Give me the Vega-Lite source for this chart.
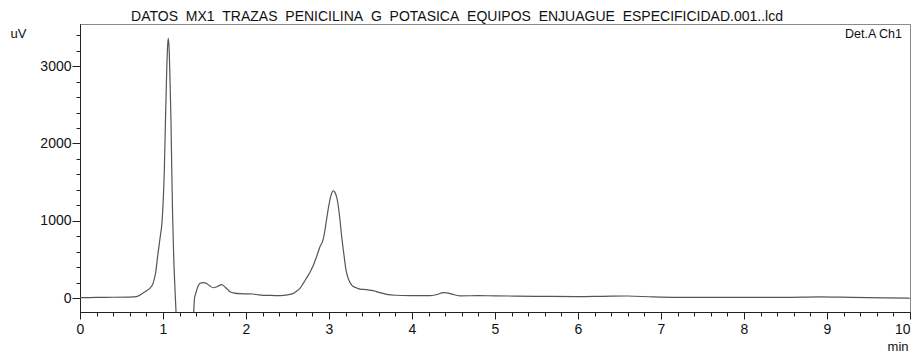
{
  "$schema": "https://vega.github.io/schema/vega-lite/v6.json",
  "width": 830,
  "height": 288,
  "autosize": {"type": "none"},
  "padding": {"left": 80, "top": 24, "right": 6, "bottom": 44},
  "background": "white",
  "config": {
    "view": {"stroke": "#8a8a8a", "strokeWidth": 1},
    "font": "Liberation Sans",
    "axis": {
      "domainColor": "#222",
      "domainWidth": 1,
      "tickColor": "#222",
      "tickWidth": 1,
      "labelColor": "#111",
      "labelFont": "Liberation Sans",
      "labelFontSize": 14,
      "grid": false,
      "titleFont": "Liberation Sans",
      "titleFontWeight": "normal",
      "titleFontSize": 13,
      "titleColor": "#111"
    }
  },
  "title": {
    "text": "DATOS\u00a0\u00a0MX1\u00a0\u00a0TRAZAS\u00a0\u00a0PENICILINA\u00a0\u00a0G\u00a0\u00a0POTASICA\u00a0\u00a0EQUIPOS\u00a0\u00a0ENJUAGUE\u00a0\u00a0ESPECIFICIDAD.001..lcd",
    "anchor": "middle",
    "frame": "group",
    "dx": -38,
    "dy": 15,
    "fontSize": 14,
    "fontWeight": "normal",
    "font": "Liberation Sans",
    "color": "#111",
    "baseline": "alphabetic",
    "offset": 4
  },
  "resolve": {"axis": {"x": "independent", "y": "independent"}},
  "layer": [
    {
      "data": {
        "values": [
          {"t": 0.0, "v": 5}, {"t": 0.2, "v": 7}, {"t": 0.4, "v": 10}, {"t": 0.6, "v": 12},
          {"t": 0.68, "v": 18}, {"t": 0.72, "v": 35}, {"t": 0.76, "v": 65}, {"t": 0.8, "v": 92},
          {"t": 0.84, "v": 125}, {"t": 0.88, "v": 190}, {"t": 0.91, "v": 320}, {"t": 0.94, "v": 578},
          {"t": 0.965, "v": 780}, {"t": 0.99, "v": 1009}, {"t": 1.016, "v": 1656},
          {"t": 1.03, "v": 2300}, {"t": 1.045, "v": 2950}, {"t": 1.055, "v": 3250}, {"t": 1.064, "v": 3360},
          {"t": 1.075, "v": 3200}, {"t": 1.085, "v": 2800}, {"t": 1.096, "v": 2300}, {"t": 1.105, "v": 1700},
          {"t": 1.117, "v": 1009}, {"t": 1.13, "v": 500}, {"t": 1.145, "v": 100}, {"t": 1.157, "v": -181},
          {"t": 1.18, "v": -800}, {"t": 1.25, "v": -1500}, {"t": 1.33, "v": -900}, {"t": 1.36, "v": -450},
          {"t": 1.37, "v": -181}, {"t": 1.38, "v": 0}, {"t": 1.395, "v": 60}, {"t": 1.406, "v": 103},
          {"t": 1.425, "v": 160}, {"t": 1.446, "v": 190}, {"t": 1.486, "v": 200}, {"t": 1.52, "v": 190},
          {"t": 1.56, "v": 160}, {"t": 1.606, "v": 133}, {"t": 1.65, "v": 145}, {"t": 1.707, "v": 172},
          {"t": 1.75, "v": 140}, {"t": 1.807, "v": 82}, {"t": 1.86, "v": 64}, {"t": 1.928, "v": 56},
          {"t": 2.0, "v": 54}, {"t": 2.088, "v": 52}, {"t": 2.15, "v": 40}, {"t": 2.209, "v": 34},
          {"t": 2.3, "v": 34}, {"t": 2.41, "v": 30}, {"t": 2.5, "v": 40}, {"t": 2.57, "v": 60},
          {"t": 2.61, "v": 90}, {"t": 2.65, "v": 125}, {"t": 2.69, "v": 190}, {"t": 2.73, "v": 260},
          {"t": 2.77, "v": 330}, {"t": 2.81, "v": 420}, {"t": 2.85, "v": 535}, {"t": 2.89, "v": 660},
          {"t": 2.93, "v": 760}, {"t": 2.95, "v": 870}, {"t": 2.97, "v": 1009}, {"t": 2.995, "v": 1180},
          {"t": 3.02, "v": 1311}, {"t": 3.04, "v": 1375}, {"t": 3.052, "v": 1388}, {"t": 3.07, "v": 1370},
          {"t": 3.1, "v": 1268}, {"t": 3.125, "v": 1080}, {"t": 3.153, "v": 793}, {"t": 3.18, "v": 560},
          {"t": 3.205, "v": 362}, {"t": 3.24, "v": 230}, {"t": 3.273, "v": 168}, {"t": 3.32, "v": 135},
          {"t": 3.373, "v": 116}, {"t": 3.45, "v": 108}, {"t": 3.534, "v": 95}, {"t": 3.6, "v": 72},
          {"t": 3.695, "v": 48}, {"t": 3.8, "v": 36}, {"t": 3.976, "v": 30}, {"t": 4.1, "v": 30},
          {"t": 4.217, "v": 30}, {"t": 4.3, "v": 45}, {"t": 4.377, "v": 69}, {"t": 4.42, "v": 66},
          {"t": 4.48, "v": 50}, {"t": 4.578, "v": 28}, {"t": 4.8, "v": 30}, {"t": 5.0, "v": 28},
          {"t": 5.5, "v": 22}, {"t": 6.0, "v": 18}, {"t": 6.3, "v": 22}, {"t": 6.6, "v": 26},
          {"t": 6.9, "v": 14}, {"t": 7.2, "v": 8}, {"t": 7.6, "v": 9}, {"t": 8.0, "v": 8},
          {"t": 8.5, "v": 8}, {"t": 8.9, "v": 14}, {"t": 9.3, "v": 8}, {"t": 9.7, "v": 2},
          {"t": 10.0, "v": -3}
        ]
      },
      "mark": {"type": "line", "clip": true, "stroke": "#555", "strokeWidth": 1.2, "interpolate": "monotone"},
      "encoding": {
        "x": {
          "field": "t",
          "type": "quantitative",
          "scale": {"domain": [0, 10], "nice": false},
          "axis": {
            "orient": "bottom",
            "values": [0, 1, 2, 3, 4, 5, 6, 7, 8, 9, 10],
            "format": "d",
            "tickSize": 7,
            "labelPadding": 3,
            "labelAlign": {"expr": "datum.value == 10 ? 'right' : 'center'"},
            "title": "min",
            "titleX": 828,
            "titleY": 38,
            "titleAlign": "right",
            "titleBaseline": "alphabetic"
          }
        },
        "y": {
          "field": "v",
          "type": "quantitative",
          "scale": {"domain": [-181, 3545], "nice": false, "zero": false},
          "axis": {
            "orient": "left",
            "values": [0, 1000, 2000, 3000],
            "format": "d",
            "tickSize": 8,
            "labelPadding": 1,
            "title": "uV",
            "titleAngle": 0,
            "titleX": -70,
            "titleY": 13.5,
            "titleAlign": "left",
            "titleBaseline": "alphabetic"
          }
        }
      }
    },
    {
      "data": {"values": [{"label": "Det.A Ch1"}]},
      "mark": {"type": "text", "align": "right", "baseline": "alphabetic", "dx": -8, "dy": 14, "fontSize": 12.5, "font": "Liberation Sans", "color": "#111"},
      "encoding": {
        "text": {"field": "label"},
        "x": {
          "datum": 10,
          "type": "quantitative",
          "axis": {
            "orient": "bottom",
            "values": [0.2, 0.4, 0.6, 0.8, 1.2, 1.4, 1.6, 1.8, 2.2, 2.4, 2.6, 2.8, 3.2, 3.4, 3.6, 3.8, 4.2, 4.4, 4.6, 4.8, 5.2, 5.4, 5.6, 5.8, 6.2, 6.4, 6.6, 6.8, 7.2, 7.4, 7.6, 7.8, 8.2, 8.4, 8.6, 8.8, 9.2, 9.4, 9.6, 9.8],
            "tickSize": 4,
            "labels": false,
            "title": null
          }
        },
        "y": {
          "datum": 3545,
          "type": "quantitative",
          "axis": {
            "orient": "left",
            "values": [200, 400, 600, 800, 1200, 1400, 1600, 1800, 2200, 2400, 2600, 2800, 3200, 3400],
            "tickSize": 4,
            "labels": false,
            "title": null
          }
        }
      }
    }
  ]
}
